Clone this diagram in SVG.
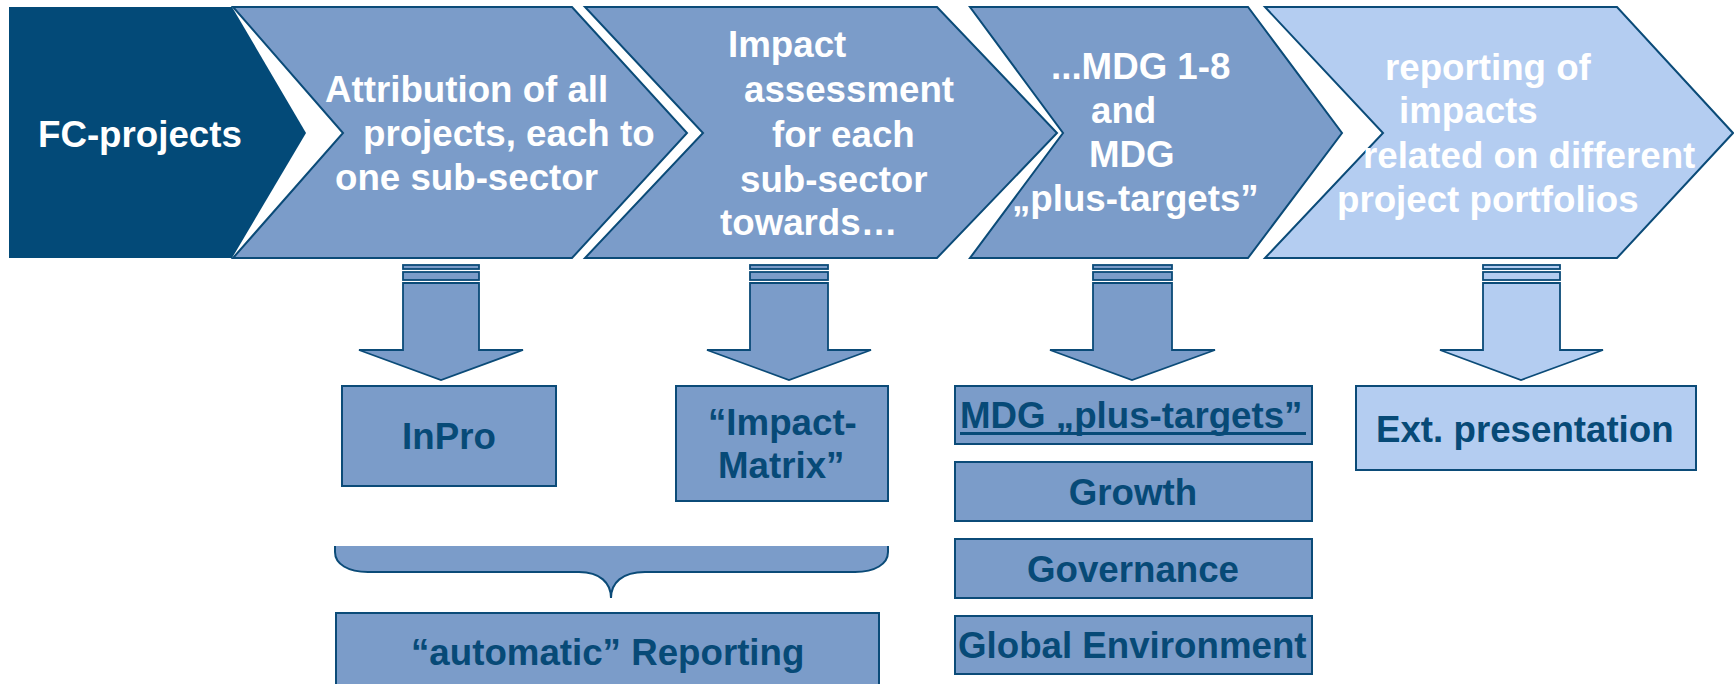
<svg xmlns="http://www.w3.org/2000/svg" width="1734" height="684" viewBox="0 0 1734 684">
<style>
.t{font-family:"Liberation Sans",Arial,sans-serif;font-weight:bold;font-size:36.7px}
.w{fill:#ffffff}
.d{fill:#074a77}
.dark{fill:#034a78;stroke:none}
.mid{fill:#7b9cc9;stroke:#0b4b78;stroke-width:2}
.lt{fill:#b4cdf1;stroke:#0b4b78;stroke-width:2}
.ar{stroke-width:1.8}
</style>
<rect width="1734" height="684" fill="#ffffff"/>
<g id="fc-projects">
<polygon class="dark" points="9,7 232,7 306,133 232,258 9,258"/>
<text class="t w" x="38" y="147">FC-projects</text>
</g>
<g id="attribution">
<polygon class="mid" points="233,7 572,7 687,133 572,258 233,258 343,133"/>
<text class="t w" x="325" y="102">Attribution of all</text>
<text class="t w" x="363" y="146">projects, each to</text>
<text class="t w" x="335" y="190">one sub-sector</text>
</g>
<g id="impact-assessment">
<polygon class="mid" points="585,7 937,7 1057,133 937,258 585,258 703,133"/>
<text class="t w" x="728" y="57">Impact</text>
<text class="t w" x="744" y="102">assessment</text>
<text class="t w" x="772" y="147">for each</text>
<text class="t w" x="740" y="192">sub-sector</text>
<text class="t w" x="720" y="235">towards…</text>
</g>
<g id="mdg">
<polygon class="mid" points="970,7 1248,7 1342,133 1248,258 970,258 1063,133"/>
<text class="t w" x="1051" y="79">...MDG 1-8</text>
<text class="t w" x="1091" y="123">and</text>
<text class="t w" x="1089" y="167">MDG</text>
<text class="t w" x="1012" y="211">„plus-targets”</text>
</g>
<g id="reporting">
<polygon class="lt" points="1265,7 1617,7 1733,133 1617,258 1265,258 1383,133"/>
<text class="t w" x="1385" y="80">reporting of</text>
<text class="t w" x="1399" y="123">impacts</text>
<text class="t w" x="1363" y="168">related on different</text>
<text class="t w" x="1337" y="212">project portfolios</text>
</g>
<g id="connectors">
<g class="mid ar">
<rect x="403" y="265" width="76" height="4"/>
<rect x="403" y="272" width="76" height="8"/>
<polygon points="403,283 479,283 479,350 523,350 441,380 359,350 403,350"/>
<rect x="750" y="265" width="78" height="4"/>
<rect x="750" y="272" width="78" height="8"/>
<polygon points="750,283 828,283 828,350 871,350 789,380 707,350 750,350"/>
<rect x="1093" y="265" width="79" height="4"/>
<rect x="1093" y="272" width="79" height="8"/>
<polygon points="1093,283 1172,283 1172,350 1215,350 1132,380 1050,350 1093,350"/>
</g>
<g class="lt ar">
<rect x="1483" y="265" width="77" height="4"/>
<rect x="1483" y="272" width="77" height="8"/>
<polygon points="1483,283 1560,283 1560,350 1603,350 1521,380 1440,350 1483,350"/>
</g>
<path d="M335,546 H888 V552 C888,564 875,572 855,572 H645 C622,572 611,583 611,598 C611,583 600,572 579,572 H368 C348,572 335,564 335,552 Z" fill="#7b9cc9" stroke="none"/>
<path d="M335,546 V552 C335,564 348,572 368,572 H579 C600,572 611,583 611,598 C611,583 622,572 645,572 H855 C875,572 888,564 888,552 V546" fill="none" stroke="#0b4b78" stroke-width="2"/>
</g>
<g id="inpro">
<rect class="mid" x="342" y="386" width="214" height="100"/>
<text class="t d" x="449" y="449" text-anchor="middle">InPro</text>
</g>
<g id="impact-matrix">
<rect class="mid" x="676" y="386" width="212" height="115"/>
<text class="t d" x="708" y="435">“Impact-</text>
<text class="t d" x="718" y="478">Matrix”</text>
</g>
<g id="mdg-plus">
<rect class="mid" x="955" y="386" width="357" height="58"/>
<text class="t d" x="960" y="428">MDG „plus-targets”</text>
<rect x="960" y="432" width="346" height="3" fill="#074a77"/>
</g>
<g id="growth">
<rect class="mid" x="955" y="462" width="357" height="59"/>
<text class="t d" x="1133" y="505" text-anchor="middle">Growth</text>
</g>
<g id="governance">
<rect class="mid" x="955" y="539" width="357" height="59"/>
<text class="t d" x="1133" y="582" text-anchor="middle">Governance</text>
</g>
<g id="global-environment">
<rect class="mid" x="955" y="616" width="357" height="58"/>
<text class="t d" x="958" y="658">Global Environment</text>
</g>
<g id="ext-presentation">
<rect class="lt" x="1356" y="386" width="340" height="84"/>
<text class="t d" x="1376" y="442">Ext. presentation</text>
</g>
<g id="automatic-reporting">
<rect class="mid" x="336" y="613" width="543" height="80"/>
<text class="t d" x="411" y="665">“automatic” Reporting</text>
</g>
</svg>
